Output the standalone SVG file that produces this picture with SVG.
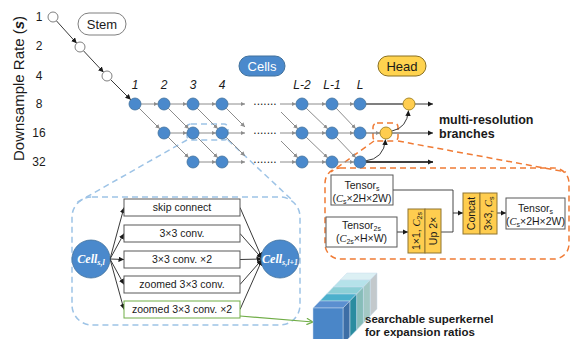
<svg xmlns="http://www.w3.org/2000/svg" width="573" height="339" viewBox="0 0 573 339">
<defs>
<style>
text{font-family:"Liberation Sans",Arial,sans-serif;fill:#1a1a1a}
.ax{font-size:12px;text-anchor:middle}
.col{font-size:12px;font-style:italic;text-anchor:middle}
.g{stroke:#8c8c8c;stroke-width:1;fill:none;marker-end:url(#ag)}
.k{stroke:#222;stroke-width:0.9;fill:none;marker-end:url(#ak)}
.bc{fill:#4a89cc;stroke:#41719c;stroke-width:0.8}
.wc{fill:#fff;stroke:#7f7f7f;stroke-width:1}
.yc{fill:#ffcd4f;stroke:#a0801e;stroke-width:0.9}
.box{fill:#fff;stroke:#595959;stroke-width:1}
.yb{fill:#ffcd4f;stroke:#8f7431;stroke-width:1}
.bt{font-size:10.5px;text-anchor:middle}
.m{font-family:"Liberation Serif","Times New Roman",serif;font-style:italic}
.bold{font-weight:bold;font-size:12.5px}
.sk{font-weight:bold;font-size:11.5px}
.bd{fill:none;stroke:#9dc3e6;stroke-width:1.5;stroke-dasharray:6 4}
.od{fill:none;stroke:#f07b35;stroke-width:1.5;stroke-dasharray:6 4}
.cellt{font-family:"Liberation Serif","Times New Roman",serif;font-style:italic;font-weight:bold;fill:#fff;font-size:12px;text-anchor:middle}
</style>
<marker id="ag" viewBox="0 0 10 10" refX="10" refY="5" markerWidth="4.5" markerHeight="4.5" markerUnits="userSpaceOnUse" orient="auto"><path d="M0,0 L10,5 L0,10 z" fill="#8c8c8c"/></marker>
<marker id="ak" viewBox="0 0 10 10" refX="10" refY="5" markerWidth="5.5" markerHeight="5.5" markerUnits="userSpaceOnUse" orient="auto"><path d="M0,0 L10,5 L0,10 z" fill="#1a1a1a"/></marker>
<marker id="agr" viewBox="0 0 10 10" refX="9" refY="5" markerWidth="8" markerHeight="8" markerUnits="userSpaceOnUse" orient="auto"><path d="M1,1 L9,5 L1,9" fill="none" stroke="#70ad47" stroke-width="1.5"/></marker>
</defs>

<g id="axis">
<text transform="translate(23.5,88.5) rotate(-90)" font-size="15" text-anchor="middle">Downsample Rate (<tspan font-style="italic" font-weight="bold">s</tspan>)</text>
<text class="ax" x="39" y="21">1</text>
<text class="ax" x="39" y="50">2</text>
<text class="ax" x="39" y="80">4</text>
<text class="ax" x="39" y="108">8</text>
<text class="ax" x="39" y="137">16</text>
<text class="ax" x="39" y="166">32</text>
</g>

<g id="col-labels">
<text class="col" x="135" y="89">1</text>
<text class="col" x="164" y="89">2</text>
<text class="col" x="193" y="89">3</text>
<text class="col" x="222" y="89">4</text>
<text class="col" x="302" y="89">L-2</text>
<text class="col" x="332" y="89">L-1</text>
<text class="col" x="360" y="89">L</text>
</g>

<g id="stem-label"><rect x="78" y="13" width="48" height="22" rx="11" fill="#fff" stroke="#7f7f7f"/><text x="102" y="28.5" font-size="13" text-anchor="middle">Stem</text></g>
<g id="cells-label"><rect x="239" y="56" width="46" height="20" rx="10" fill="#4a89cc" stroke="#41719c"/><text x="262" y="70.5" font-size="13" text-anchor="middle" style="fill:#fff">Cells</text></g>
<g id="head-label"><rect x="378" y="56" width="48" height="20" rx="10" fill="#ffd34f" stroke="#8a7020"/><text x="402" y="70.5" font-size="13" text-anchor="middle">Head</text></g>

<g id="blue-callout">
<rect class="bd" x="187" y="124" width="41" height="16" rx="4"/>
<line class="bd" x1="187" y1="140" x2="76" y2="203"/>
<line class="bd" x1="228" y1="140" x2="291" y2="199"/>
<rect class="bd" x="72" y="197" width="228" height="128" rx="20"/>
</g>
<g id="orange-callout">
<rect class="od" x="373" y="123" width="25" height="18" rx="4"/>
<line class="od" x1="374" y1="141" x2="331" y2="172"/>
<line class="od" x1="398" y1="141" x2="566" y2="172"/>
<rect class="od" x="325" y="168" width="244" height="91" rx="15"/>
</g>

<g id="connectors">
<line class="k" x1="56.3" y1="20.7" x2="76.7" y2="43.3"/>
<line class="k" x1="83.4" y1="50.7" x2="103.6" y2="72.3"/>
<line class="k" x1="110.5" y1="79.5" x2="130.8" y2="99.8"/>
<line class="g" x1="141" y1="104" x2="158" y2="104"/>
<line class="g" x1="170" y1="104" x2="187" y2="104"/>
<line class="g" x1="199" y1="104" x2="216" y2="104"/>
<line class="g" x1="228" y1="104" x2="245" y2="104"/>
<line class="g" x1="280" y1="104" x2="296" y2="104"/>
<line class="g" x1="308" y1="104" x2="326" y2="104"/>
<line class="g" x1="338" y1="104" x2="354" y2="104"/>
<line class="g" x1="170" y1="133" x2="187" y2="133"/>
<line class="g" x1="199" y1="133" x2="216" y2="133"/>
<line class="g" x1="228" y1="133" x2="245" y2="133"/>
<line class="g" x1="280" y1="133" x2="296" y2="133"/>
<line class="g" x1="308" y1="133" x2="326" y2="133"/>
<line class="g" x1="338" y1="133" x2="354" y2="133"/>
<line class="g" x1="199" y1="162" x2="216" y2="162"/>
<line class="g" x1="228" y1="162" x2="245" y2="162"/>
<line class="g" x1="280" y1="162" x2="296" y2="162"/>
<line class="g" x1="308" y1="162" x2="326" y2="162"/>
<line class="g" x1="338" y1="162" x2="354" y2="162"/>
<line class="g" x1="139.2" y1="108.2" x2="159.8" y2="128.8"/>
<line class="g" x1="168.2" y1="108.2" x2="188.8" y2="128.8"/>
<line class="g" x1="197.2" y1="108.2" x2="217.8" y2="128.8"/>
<line class="g" x1="226.2" y1="108.2" x2="245" y2="127"/>
<line class="g" x1="168.2" y1="137.2" x2="188.8" y2="157.8"/>
<line class="g" x1="197.2" y1="137.2" x2="217.8" y2="157.8"/>
<line class="g" x1="226.2" y1="137.2" x2="245" y2="156"/>
<line class="g" x1="281" y1="112" x2="297.8" y2="128.8"/>
<line class="g" x1="281" y1="141" x2="297.8" y2="157.8"/>
<line class="g" x1="306.2" y1="108.2" x2="327.7" y2="128.8"/>
<line class="g" x1="336.2" y1="108.2" x2="355.8" y2="128.8"/>
<line class="g" x1="306.2" y1="137.2" x2="327.7" y2="157.8"/>
<line class="g" x1="336.2" y1="137.2" x2="355.8" y2="157.8"/>
<line x1="366" y1="104" x2="403" y2="104" stroke="#555" stroke-width="1.3"/>
<line class="k" x1="415" y1="104" x2="433" y2="104"/>
<line class="g" x1="366" y1="133" x2="380" y2="133" style="stroke:#555"/>
<line class="k" x1="392" y1="133" x2="433" y2="133"/>
<line x1="366" y1="162" x2="433" y2="162" stroke="#404040" stroke-width="2" marker-end="url(#ak)"/>
<path class="k" d="M365,161 Q384,159 385.5,139.5"/>
<path class="k" d="M392,131 Q407,128 408.5,110.5"/>
<line class="k" x1="110" y1="259" x2="124" y2="207.5"/>
<line class="k" x1="110" y1="259" x2="124" y2="233.5"/>
<line class="k" x1="110" y1="259" x2="124" y2="259.5"/>
<line class="k" x1="110" y1="259" x2="124" y2="284.5"/>
<line class="k" x1="110" y1="259" x2="124" y2="309.5"/>
<line class="k" x1="240" y1="207.5" x2="262" y2="258"/>
<line class="k" x1="240" y1="233.5" x2="262" y2="258.5"/>
<line class="k" x1="240" y1="259.5" x2="262" y2="259"/>
<line class="k" x1="240" y1="284.5" x2="262" y2="259.5"/>
<line class="k" x1="240" y1="309.5" x2="262" y2="260"/>
<line x1="240" y1="316" x2="313" y2="322" stroke="#70ad47" stroke-width="1.2" marker-end="url(#agr)"/>
<polyline fill="none" stroke="#333" stroke-width="0.9" points="393,190 453,190 453,232 441,232"/>
<line class="k" x1="453" y1="213" x2="463" y2="213"/>
<line class="k" x1="397" y1="232" x2="408" y2="232"/>
<line class="k" x1="497" y1="213" x2="506" y2="213"/>
</g>

<g id="dots">
<text x="265" y="105" font-size="12" text-anchor="middle">.......</text>
<text x="265" y="134" font-size="12" text-anchor="middle">.......</text>
<text x="265" y="163" font-size="12" text-anchor="middle">.......</text>
</g>

<g id="s1"><circle class="wc" cx="53" cy="17" r="5"/></g>
<g id="s2"><circle class="wc" cx="80" cy="47" r="5"/></g>
<g id="s3"><circle class="wc" cx="107" cy="76" r="5"/></g>

<g id="n-8-1"><circle class="bc" cx="135" cy="104" r="6"/></g>
<g id="n-8-2"><circle class="bc" cx="164" cy="104" r="6"/></g>
<g id="n-8-3"><circle class="bc" cx="193" cy="104" r="6"/></g>
<g id="n-8-4"><circle class="bc" cx="222" cy="104" r="6"/></g>
<g id="n-8-L2"><circle class="bc" cx="302" cy="104" r="6"/></g>
<g id="n-8-L1"><circle class="bc" cx="332" cy="104" r="6"/></g>
<g id="n-8-L"><circle class="bc" cx="360" cy="104" r="6"/></g>
<g id="n-16-2"><circle class="bc" cx="164" cy="133" r="6"/></g>
<g id="n-16-3"><circle class="bc" cx="193" cy="133" r="6"/></g>
<g id="n-16-4"><circle class="bc" cx="222" cy="133" r="6"/></g>
<g id="n-16-L2"><circle class="bc" cx="302" cy="133" r="6"/></g>
<g id="n-16-L1"><circle class="bc" cx="332" cy="133" r="6"/></g>
<g id="n-16-L"><circle class="bc" cx="360" cy="133" r="6"/></g>
<g id="n-32-3"><circle class="bc" cx="193" cy="162" r="6"/></g>
<g id="n-32-4"><circle class="bc" cx="222" cy="162" r="6"/></g>
<g id="n-32-L2"><circle class="bc" cx="302" cy="162" r="6"/></g>
<g id="n-32-L1"><circle class="bc" cx="332" cy="162" r="6"/></g>
<g id="n-32-L"><circle class="bc" cx="360" cy="162" r="6"/></g>
<g id="h-8"><circle class="yc" cx="409" cy="104" r="6"/></g>
<g id="h-16"><circle class="yc" cx="386" cy="133" r="6"/></g>

<g id="branches-label">
<text class="bold" x="439" y="123.5">multi-resolution</text>
<text class="bold" x="439" y="138">branches</text>
</g>

<g id="cell-sl"><circle class="bc" cx="91" cy="259" r="19" stroke-width="0"/><text class="cellt" x="91" y="263">Cell<tspan font-size="8" dy="2">s,l</tspan></text></g>
<g id="cell-sl1"><circle class="bc" cx="280" cy="259" r="19" stroke-width="0"/><text class="cellt" x="280" y="263">Cell<tspan font-size="8" dy="2">s,l+1</tspan></text></g>
<g id="op-skip"><rect class="box" x="124" y="199" width="116" height="17"/><text class="bt" x="182" y="211.3">skip connect</text></g>
<g id="op-conv"><rect class="box" x="124" y="225" width="116" height="17"/><text class="bt" x="182" y="237.3">3×3 conv.</text></g>
<g id="op-conv2"><rect class="box" x="124" y="251" width="116" height="17"/><text class="bt" x="182" y="263.3">3×3 conv. ×2</text></g>
<g id="op-zconv"><rect class="box" x="124" y="276" width="116" height="17"/><text class="bt" x="182" y="288.3">zoomed 3×3 conv.</text></g>
<g id="op-zconv2"><rect class="box" x="124" y="301" width="116" height="17" style="stroke:#70ad47"/><text class="bt" x="182" y="313.3">zoomed 3×3 conv. ×2</text></g>

<g id="tensor-s-in"><rect class="box" x="331" y="175" width="62" height="30"/>
<text class="bt" x="362" y="188.5">Tensor<tspan font-size="7" dy="2">s</tspan></text>
<text class="bt" x="362" y="201.5">(<tspan class="m">C</tspan><tspan font-size="7" dy="2">s</tspan><tspan dy="-2">×2H×2W)</tspan></text></g>
<g id="tensor-2s-in"><rect class="box" x="326" y="217" width="71" height="30"/>
<text class="bt" x="361.5" y="229">Tensor<tspan font-size="7" dy="2">2s</tspan></text>
<text class="bt" x="361.5" y="242">(<tspan class="m">C</tspan><tspan font-size="7" dy="2">2s</tspan><tspan dy="-2">×H×W)</tspan></text></g>
<g id="conv-up"><rect class="yb" x="408" y="209" width="17" height="44"/><rect class="yb" x="425" y="209" width="16" height="44"/>
<text class="bt" transform="translate(420.3,231) rotate(-90)">1×1, <tspan class="m">C</tspan><tspan font-size="7" dy="1.5">2s</tspan></text>
<text class="bt" transform="translate(437,231) rotate(-90)">Up 2×</text></g>
<g id="concat"><rect class="yb" x="463" y="193" width="17" height="41"/><rect class="yb" x="480" y="193" width="17" height="41"/>
<text class="bt" transform="translate(475.3,213.5) rotate(-90)">Concat</text>
<text class="bt" transform="translate(492.3,213.5) rotate(-90)">3×3, <tspan class="m">C</tspan><tspan font-size="7" dy="1.5">s</tspan></text></g>
<g id="tensor-s-out"><rect class="box" x="506" y="198" width="59" height="31"/>
<text class="bt" x="535.5" y="212">Tensor<tspan font-size="7" dy="2">s</tspan></text>
<text class="bt" x="535.5" y="224.5">(<tspan class="m">C</tspan><tspan font-size="7" dy="2">s</tspan><tspan dy="-2">×2H×2W)</tspan></text></g>

<g id="superkernel" stroke="#c9dcee" stroke-width="0.5">
<polygon points="340.2,280 370.2,280 377,273 347,273" fill="#dcf0f4"/>
<polygon points="333.4,287 363.4,287 370.2,280 340.2,280" fill="#b5e2ea"/>
<polygon points="326.6,294 356.6,294 363.4,287 333.4,287" fill="#8ccfd6"/>
<polygon points="319.8,301 349.8,301 356.6,294 326.6,294" fill="#4bb0cc"/>
<polygon points="313,308 343,308 349.8,301 319.8,301" fill="#5b8fd0"/>
<polygon points="370.2,280 377,273 377,309 370.2,316" fill="#c3c9cc"/>
<polygon points="363.4,287 370.2,280 370.2,316 363.4,323" fill="#a3c8c4"/>
<polygon points="356.6,294 363.4,287 363.4,323 356.6,330" fill="#87bdb9"/>
<polygon points="349.8,301 356.6,294 356.6,330 349.8,337" fill="#2a8ca0"/>
<polygon points="343,308 349.8,301 349.8,337 343,344" fill="#3d6ea6"/>
<rect x="313" y="308" width="30" height="36" fill="#4a86c8"/>
</g>
<g id="superkernel-label">
<text class="sk" x="365" y="323">searchable superkernel</text>
<text class="sk" x="365" y="335.5">for expansion ratios</text>
</g>
</svg>
